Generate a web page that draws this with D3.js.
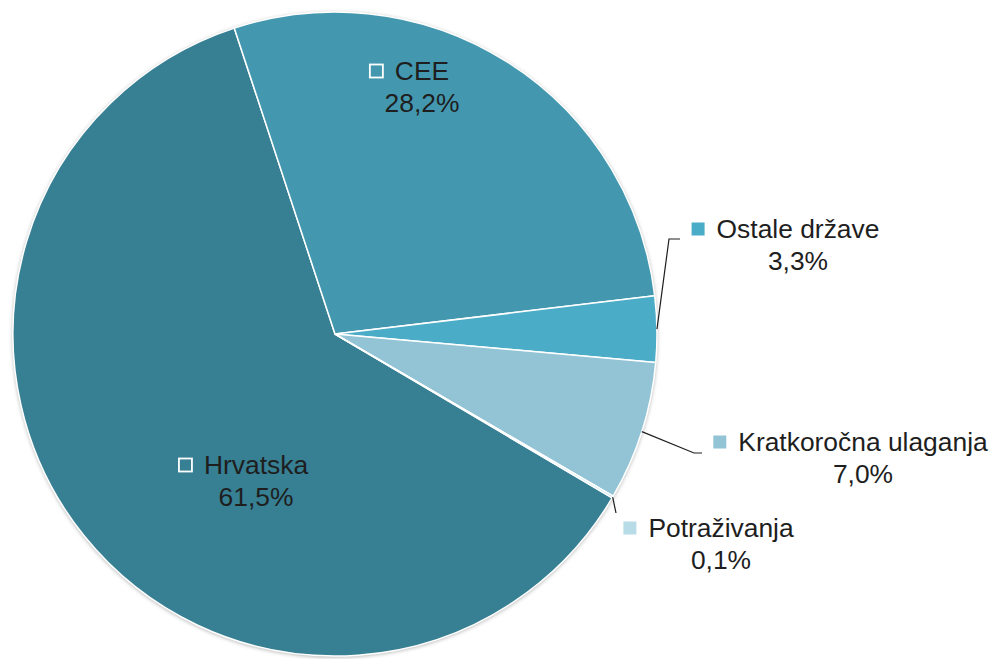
<!DOCTYPE html>
<html>
<head>
  <meta charset="utf-8">
  <script src="https://d3js.org/d3.v7.min.js"></script>
  <style>
  body { margin: 0; background: #ffffff; }
  text { font-family: "Liberation Sans", Arial, sans-serif; font-size: 26.4px; fill: #1e1e1e; }
  </style>
</head>
<body>
  <script>
  var w = 995;
  var h = 659;

  //Chart data (Excel order, first slice starts at the lower right)
  var categories = ["Hrvatska", "CEE", "Ostale države", "Kratkoročna ulaganja", "Potraživanja"];
  var values = [61.5, 28.2, 3.3, 7.0, 0.1];
  var valueLabels = ["61,5%", "28,2%", "3,3%", "7,0%", "0,1%"];
  var colors = ["#377f93", "#4398b0", "#4aacc6", "#93c4d5", "#b7dce7"];

  //Label placement: inside or outside, text centre, optional leader elbow
  var labelPos = [
    {inside: true,  x: 256, y: 465},
    {inside: true,  x: 422, y: 71},
    {inside: false, x: 798, y: 229, elbow: [[669, 239], [680, 239]]},
    {inside: false, x: 863, y: 442, elbow: [[694, 453], [702, 453]]},
    {inside: false, x: 721, y: 528, elbow: [[616, 513]]}
  ];

  var cx = 335, cy = 334, r = 322;

  var svg = d3.select("body")
    .append("svg")
    .attr("width", w)
    .attr("height", h);

  //Soft shadow round the pie
  var filter = svg.append("defs").append("filter")
    .attr("id", "shadow")
    .attr("x", "-10%").attr("y", "-10%")
    .attr("width", "120%").attr("height", "120%");
  filter.append("feDropShadow")
    .attr("dx", 0)
    .attr("dy", 1)
    .attr("stdDeviation", 2)
    .attr("flood-color", "#000")
    .attr("flood-opacity", 0.35);

  var startAngle = 120.6 * Math.PI / 180;
  var pie = d3.pie()
    .sort(null)
    .startAngle(startAngle)
    .endAngle(startAngle + 2 * Math.PI);

  var arcs = pie(values);

  var arc = d3.arc()
    .innerRadius(0)
    .outerRadius(r);

  var g = svg.append("g")
    .attr("transform", "translate(" + cx + "," + cy + ")");

  g.append("circle")
    .attr("r", r)
    .attr("fill", colors[0])
    .attr("filter", "url(#shadow)");

  g.selectAll("path")
    .data(arcs)
    .enter()
    .append("path")
      .attr("d", arc)
      .attr("fill", function(d, i){ return colors[i]; })
      .attr("stroke", "#ffffff")
      .attr("stroke-width", 1.5)
      .attr("stroke-linejoin", "round");

  //Labels
  var labels = svg.append("g");

  arcs.forEach(function(d, i){
    var p = labelPos[i];

    //Leader line from slice edge to elbow
    if(p.elbow){
      var mid = (d.startAngle + d.endAngle) / 2;
      var pts = [[cx + r * Math.sin(mid), cy - r * Math.cos(mid)]].concat(p.elbow);
      labels.append("path")
        .attr("d", d3.line()(pts))
        .attr("fill", "none")
        .attr("stroke", "#1e1e1e")
        .attr("stroke-width", 1.2);
    }

    var name = labels.append("text")
      .attr("x", p.x)
      .attr("y", p.y)
      .attr("text-anchor", "middle")
      .attr("dominant-baseline", "central")
      .text(categories[i]);

    labels.append("text")
      .attr("x", p.x)
      .attr("y", p.y + 32)
      .attr("text-anchor", "middle")
      .attr("dominant-baseline", "central")
      .text(valueLabels[i]);

    //Legend key left of the name
    var tw = name.node().getComputedTextLength();
    var kx = p.x - tw / 2 - 12 - 13;
    labels.append("rect")
      .attr("x", kx)
      .attr("y", p.y - 6.5)
      .attr("width", 13)
      .attr("height", 13)
      .attr("fill", p.inside ? "none" : colors[i])
      .attr("stroke", p.inside ? "#ffffff" : "none")
      .attr("stroke-width", 1.8);
  });
  </script>
</body>
</html>
